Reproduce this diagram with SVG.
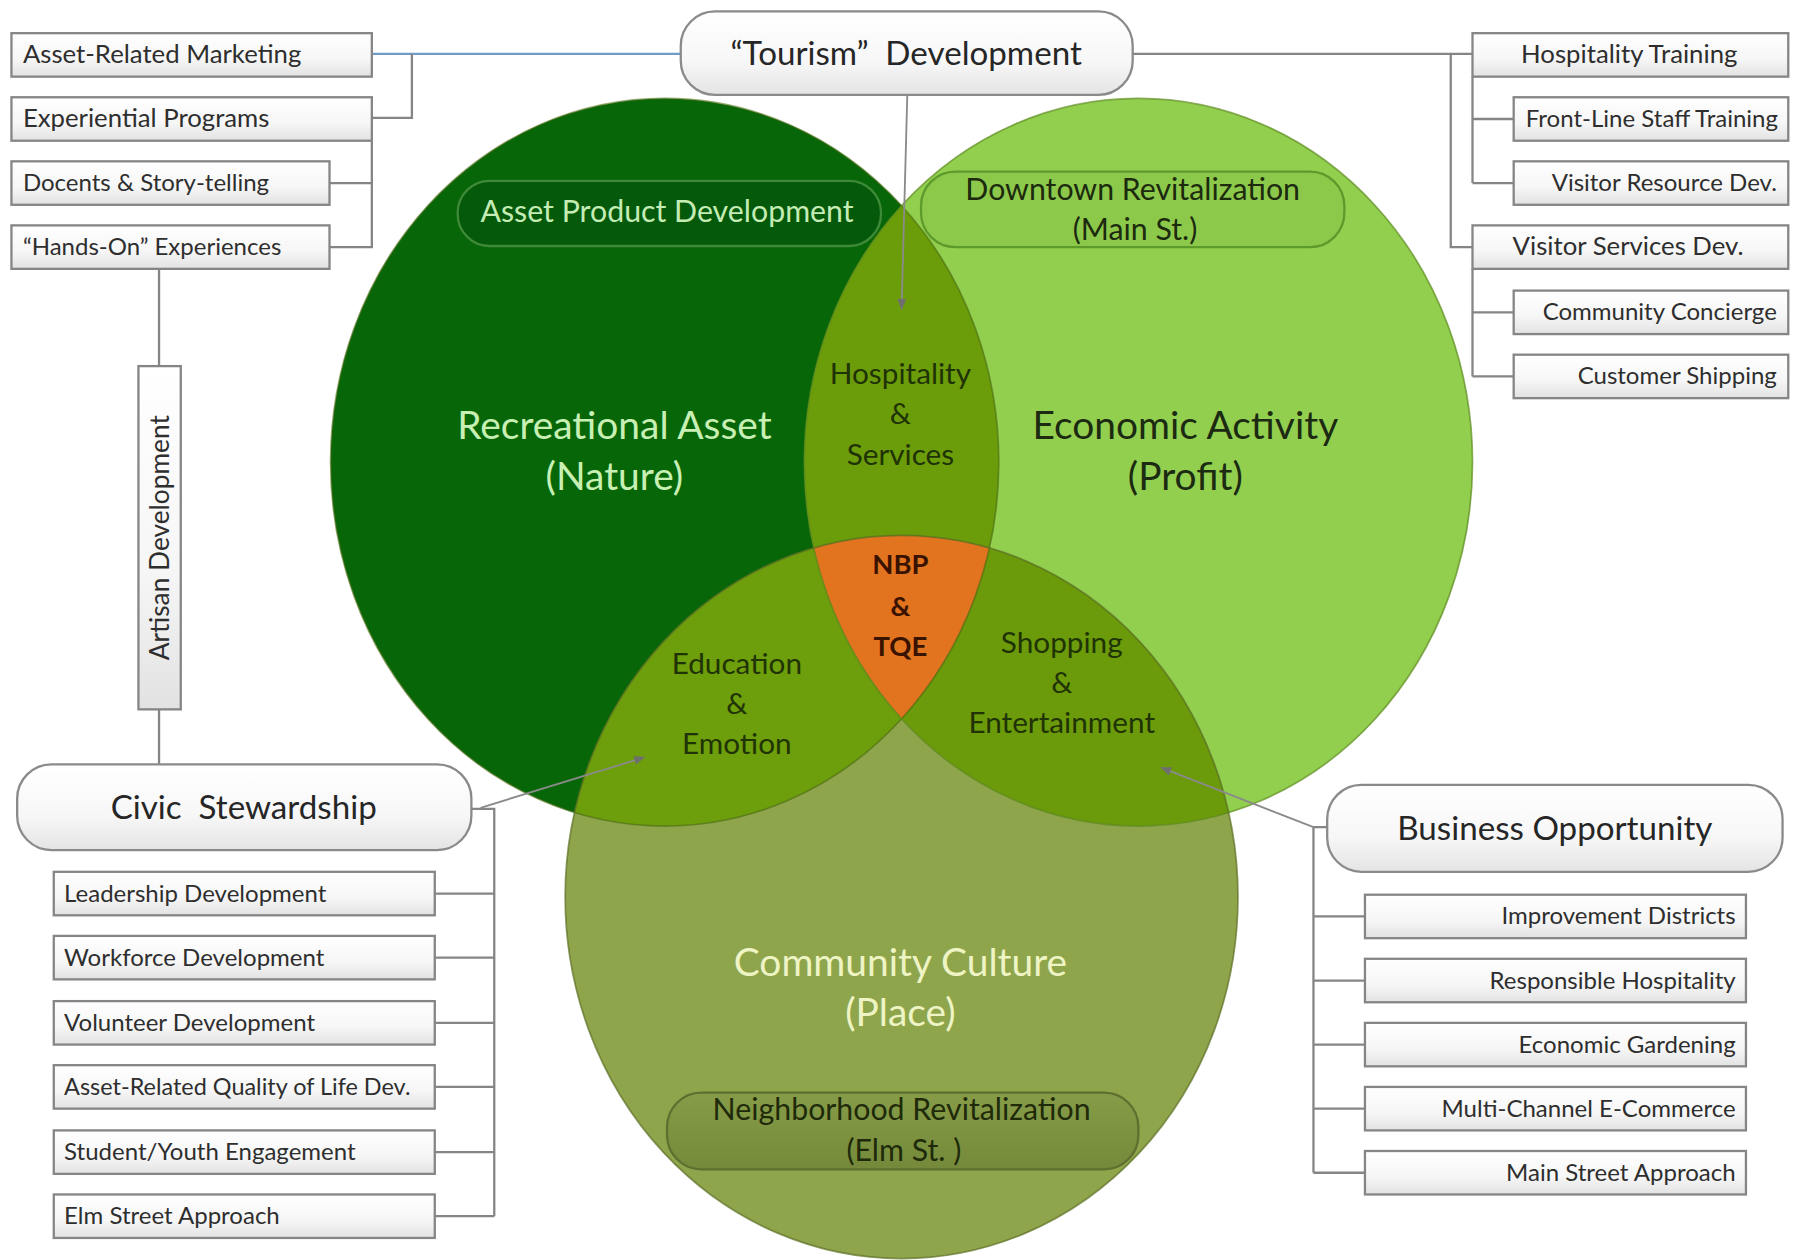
<svg xmlns="http://www.w3.org/2000/svg" width="1794" height="1260" viewBox="0 0 1794 1260">
<defs>
<style>
.bx{fill:url(#gBox);stroke:#858585;stroke-width:2}
.pill{fill:url(#gPill);stroke:#8a8a8a;stroke-width:2}
.t{font-family:Lato,"Open Sans",sans-serif;font-size:21px;fill:#2e2e2e}
.tl{font-size:22.5px}
.tc{text-anchor:middle}
.tr{text-anchor:end}
.big{font-family:Lato,"Open Sans",sans-serif;font-size:29px;fill:#262626;text-anchor:middle}
.venn{font-family:Lato,"Open Sans",sans-serif;font-size:34px;text-anchor:middle}
.mid{font-family:Lato,"Open Sans",sans-serif;font-size:26px;text-anchor:middle;fill:#1f3306}
.nbp{font-family:Lato,"Open Sans",sans-serif;font-size:24px;font-weight:bold;text-anchor:middle;fill:#3a1200}
.inner{font-family:Lato,"Open Sans",sans-serif;font-size:26.5px;text-anchor:middle}
.ln{fill:none;stroke:#858585;stroke-width:2}
.arr{fill:none;stroke:#8a8a8a;stroke-width:1.6;marker-end:url(#ah)}
</style>
<linearGradient id="gBox" x1="0" y1="0" x2="0" y2="1">
<stop offset="0" stop-color="#ffffff"/><stop offset="0.6" stop-color="#f6f6f6"/><stop offset="1" stop-color="#e2e2e2"/>
</linearGradient>
<linearGradient id="gPill" x1="0" y1="0" x2="0" y2="1">
<stop offset="0" stop-color="#ffffff"/><stop offset="0.6" stop-color="#f7f7f7"/><stop offset="1" stop-color="#e4e4e4"/>
</linearGradient>
<linearGradient id="gNR" x1="0" y1="0" x2="0" y2="1">
<stop offset="0" stop-color="#879c48"/><stop offset="1" stop-color="#748a3a"/>
</linearGradient>
<marker id="ah" viewBox="0 0 10 10" refX="9" refY="5" markerWidth="6" markerHeight="6" orient="auto">
<path d="M0,1 L10,5 L0,9 z" fill="#6f6f6f"/>
</marker>
<clipPath id="cD"><ellipse cx="581" cy="404" rx="292" ry="318"/></clipPath>
<clipPath id="cL"><ellipse cx="995" cy="404" rx="292" ry="318"/></clipPath>
<clipPath id="cO"><ellipse cx="788" cy="784" rx="294" ry="316"/></clipPath>
</defs>
<rect x="0" y="0" width="1794" height="1260" fill="#ffffff"/>
<g transform="scale(1.14413)">

<g id="venn">
<ellipse cx="581" cy="404" rx="292" ry="318" fill="#076608"/>
<ellipse cx="995" cy="404" rx="292" ry="318" fill="#92cf4f"/>
<ellipse cx="788" cy="784" rx="294" ry="316" fill="#8fa54c"/>
<g clip-path="url(#cD)"><ellipse cx="995" cy="404" rx="292" ry="318" fill="#6b9c0a"/></g>
<g clip-path="url(#cD)"><ellipse cx="788" cy="784" rx="294" ry="316" fill="#6d9e0b"/></g>
<g clip-path="url(#cL)"><ellipse cx="788" cy="784" rx="294" ry="316" fill="#6b9b0a"/></g>
<g clip-path="url(#cD)"><g clip-path="url(#cL)"><ellipse cx="788" cy="784" rx="294" ry="316" fill="#e2731f"/></g></g>
<ellipse cx="581" cy="404" rx="292" ry="318" fill="none" stroke="#4a6a12" stroke-opacity="0.6" stroke-width="1.5"/>
<ellipse cx="995" cy="404" rx="292" ry="318" fill="none" stroke="#5d8a1e" stroke-opacity="0.7" stroke-width="1.5"/>
<ellipse cx="788" cy="784" rx="294" ry="316" fill="none" stroke="#5a6e22" stroke-opacity="0.7" stroke-width="1.5"/>
</g>

<g id="asset-product">
<rect x="400" y="158" width="370" height="57" rx="28" fill="#05590a" stroke="#3f8a38" stroke-width="2"/>
<text class="inner" x="583" y="194" fill="#c4ecb4">Asset Product Development</text>
</g>
<g id="downtown">
<rect x="805" y="150" width="370" height="66" rx="30" fill="#8cc94b" stroke="#5d9a2c" stroke-width="2"/>
<text class="inner" x="990" y="175" fill="#1c2a0e">Downtown Revitalization</text>
<text class="inner" x="992" y="210" fill="#1c2a0e">(Main St.)</text>
</g>
<g id="neighborhood">
<rect x="583" y="955" width="412" height="67" rx="30" fill="url(#gNR)" stroke="#5e7030" stroke-width="2"/>
<text class="inner" x="788" y="979" fill="#1e2a0a">Neighborhood Revitalization</text>
<text class="inner" x="790" y="1015" fill="#1e2a0a">(Elm St. )</text>
</g>

<g id="venn-labels">
<text class="venn" x="537" y="384" fill="#c8f0b4">Recreational Asset</text>
<text class="venn" x="537" y="428" fill="#c8f0b4">(Nature)</text>
<text class="venn" x="1036" y="384" fill="#1c2a12">Economic Activity</text>
<text class="venn" x="1036" y="428" fill="#1c2a12">(Profit)</text>
<text class="venn" x="787" y="853" fill="#eef4c4">Community Culture</text>
<text class="venn" x="787" y="897" fill="#eef4c4">(Place)</text>
<text class="mid" x="787" y="336">Hospitality</text>
<text class="mid" x="787" y="371">&amp;</text>
<text class="mid" x="787" y="406">Services</text>
<text class="mid" x="644" y="589">Education</text>
<text class="mid" x="644" y="624">&amp;</text>
<text class="mid" x="644" y="659">Emotion</text>
<text class="mid" x="928" y="571">Shopping</text>
<text class="mid" x="928" y="606">&amp;</text>
<text class="mid" x="928" y="641">Entertainment</text>
<text class="nbp" x="787" y="502">NBP</text>
<text class="nbp" x="787" y="538">&amp;</text>
<text class="nbp" x="787" y="573">TQE</text>
</g>

<g id="connectors">
<path d="M325,47 H595" fill="none" stroke="#6f9cc8" stroke-width="2"/>
<path class="ln" d="M360,47 V103 H325"/>
<path class="ln" d="M325,123 V216 H288 M325,160 H288"/>
<path class="ln" d="M139,235 V320 M139,620 V668"/>
<path class="ln" d="M412,707 H432 V1063 M380,781 H432 M380,837 H432 M380,894 H432 M380,950 H432 M380,1007 H432 M380,1063 H432"/>
<path class="arr" d="M420,706 L563,662"/>
<path class="ln" d="M1160,723 H1148 V1025 M1148,801 H1193 M1148,857 H1193 M1148,913 H1193 M1148,969 H1193 M1148,1025 H1193"/>
<path class="arr" d="M1148,723 L1015,671"/>
<path class="ln" d="M990,47 H1287 M1268,47 V216 H1287"/>
<path class="ln" d="M1287,67 V160 M1287,104 H1323 M1287,160 H1323"/>
<path class="ln" d="M1287,235 V329 M1287,273 H1323 M1287,329 H1323"/>
<path class="arr" d="M793,83 L788,270"/>
</g>

<g id="tourism">
<rect class="pill" x="595" y="10" width="395" height="73" rx="30"/>
<text class="big" x="792" y="57">“Tourism”&#160; Development</text>
</g>
<g id="civic">
<rect class="pill" x="15" y="668" width="397" height="75" rx="30"/>
<text class="big" x="213" y="716">Civic&#160; Stewardship</text>
</g>
<g id="business">
<rect class="pill" x="1160" y="686" width="398" height="76" rx="30"/>
<text class="big" x="1359" y="734">Business Opportunity</text>
</g>

<g id="asset-marketing"><rect class="bx" x="10" y="29" width="315" height="38"/><text class="t tl" x="20" y="55">Asset-Related Marketing</text></g>
<g id="experiential"><rect class="bx" x="10" y="85" width="315" height="38"/><text class="t tl" x="20" y="111">Experiential Programs</text></g>
<g id="docents"><rect class="bx" x="10" y="141" width="278" height="38"/><text class="t" x="20" y="167">Docents &amp; Story-telling</text></g>
<g id="hands-on"><rect class="bx" x="10" y="197" width="278" height="38"/><text class="t" x="20" y="223">“Hands-On” Experiences</text></g>
<g id="artisan"><rect class="bx" x="121" y="320" width="37" height="300"/><text class="t tc" style="font-size:23px" transform="translate(148,470) rotate(-90)">Artisan Development</text></g>

<g id="leadership"><rect class="bx" x="47" y="762" width="333" height="38"/><text class="t" x="56" y="788">Leadership Development</text></g>
<g id="workforce"><rect class="bx" x="47" y="818" width="333" height="38"/><text class="t" x="56" y="844">Workforce Development</text></g>
<g id="volunteer"><rect class="bx" x="47" y="875" width="333" height="38"/><text class="t" x="56" y="901">Volunteer Development</text></g>
<g id="quality"><rect class="bx" x="47" y="931" width="333" height="38"/><text class="t" x="56" y="957" style="font-size:20.5px">Asset-Related Quality of Life Dev.</text></g>
<g id="youth"><rect class="bx" x="47" y="988" width="333" height="38"/><text class="t" x="56" y="1014">Student/Youth Engagement</text></g>
<g id="elm"><rect class="bx" x="47" y="1044" width="333" height="38"/><text class="t" x="56" y="1070">Elm Street Approach</text></g>

<g id="improvement"><rect class="bx" x="1193" y="782" width="333" height="38"/><text class="t tr" x="1517" y="808">Improvement Districts</text></g>
<g id="responsible"><rect class="bx" x="1193" y="838" width="333" height="38"/><text class="t tr" x="1517" y="864">Responsible Hospitality</text></g>
<g id="gardening"><rect class="bx" x="1193" y="894" width="333" height="38"/><text class="t tr" x="1517" y="920">Economic Gardening</text></g>
<g id="ecommerce"><rect class="bx" x="1193" y="950" width="333" height="38"/><text class="t tr" x="1517" y="976">Multi-Channel E-Commerce</text></g>
<g id="mainstreet"><rect class="bx" x="1193" y="1006" width="333" height="38"/><text class="t tr" x="1517" y="1032">Main Street Approach</text></g>

<g id="hosp-training"><rect class="bx" x="1287" y="29" width="276" height="38"/><text class="t tc tl" x="1424" y="55">Hospitality Training</text></g>
<g id="frontline"><rect class="bx" x="1323" y="85" width="240" height="38"/><text class="t tr" x="1554" y="111">Front-Line Staff Training</text></g>
<g id="visitor-resource"><rect class="bx" x="1323" y="141" width="240" height="38"/><text class="t tr" x="1553" y="167">Visitor Resource Dev.</text></g>
<g id="visitor-services"><rect class="bx" x="1287" y="197" width="276" height="38"/><text class="t tc tl" x="1423" y="223">Visitor Services Dev.</text></g>
<g id="concierge"><rect class="bx" x="1323" y="254" width="240" height="38"/><text class="t tr" x="1553" y="280">Community Concierge</text></g>
<g id="shipping"><rect class="bx" x="1323" y="310" width="240" height="38"/><text class="t tr" x="1553" y="336">Customer Shipping</text></g>
</g>
</svg>
